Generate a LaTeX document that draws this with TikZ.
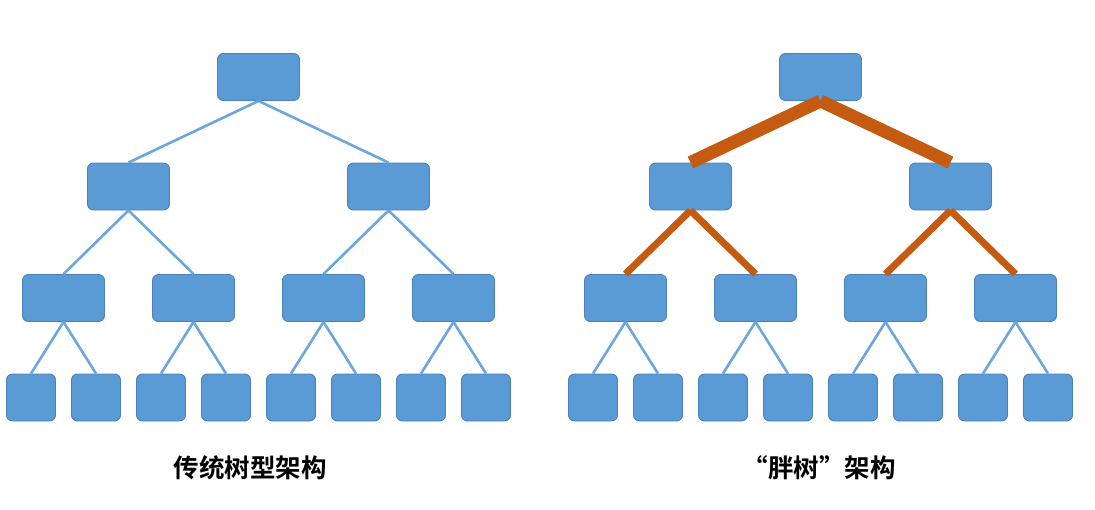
\documentclass[tikz,border=0pt]{standalone}
\usepackage{fontspec}
\newfontfamily\cjkb{Noto Sans CJK SC Bold}
\definecolor{boxfill}{HTML}{5B9BD5}
\definecolor{boxline}{HTML}{4A80B8}
\definecolor{thinline}{HTML}{6CA6DC}
\definecolor{fatline}{HTML}{C55A11}
\tikzset{
  box/.style={rectangle, rounded corners=6pt, draw=boxline, line width=0.9pt, fill=boxfill,
    minimum width=82pt, minimum height=47pt, inner sep=0pt},
  leaf/.style={box, minimum width=49pt},
  thin/.style={draw=thinline, line width=2.6pt},
  fatA/.style={draw=fatline, line width=13pt},
  fatB/.style={draw=fatline, line width=7pt},
  caption/.style={font=\cjkb\fontsize{25.5}{30}\selectfont, inner sep=0pt}
}
\begin{document}
\begin{tikzpicture}[x=1pt, y=-1pt]
\useasboundingbox (0,0) rectangle (1095,509);
\foreach \t/\ox in {A/0, B/562} {
  \node[box] (\t-r) at (258.5+\ox, 77) {};
  \node[box] (\t-1) at (128.5+\ox, 186.5) {};
  \node[box] (\t-2) at (388.5+\ox, 186.5) {};
  \foreach \i in {1,...,4}
    \node[box] (\t-3\i) at ({63.5+130*(\i-1)+\ox}, 298) {};
  \foreach \i in {1,...,8}
    \node[leaf] (\t-4\i) at ({31+65*(\i-1)+\ox}, 397.5) {};
}
% left tree: all thin links
\draw[thin] (A-r.south) -- (A-1.north);
\draw[thin] (A-r.south) -- (A-2.north);
\draw[thin] (A-1.south) -- (A-31.north);
\draw[thin] (A-1.south) -- (A-32.north);
\draw[thin] (A-2.south) -- (A-33.north);
\draw[thin] (A-2.south) -- (A-34.north);
% right tree: fat links at top
\draw[fatA] (B-r.south) -- (B-1.north);
\draw[fatA] (B-r.south) -- (B-2.north);
\draw[fatB] (B-1.south) -- (B-31.north);
\draw[fatB] (B-1.south) -- (B-32.north);
\draw[fatB] (B-2.south) -- (B-33.north);
\draw[fatB] (B-2.south) -- (B-34.north);
% bottom links (both trees)
\foreach \t in {A,B} {
  \foreach \i/\a/\b in {1/1/2, 2/3/4, 3/5/6, 4/7/8} {
    \draw[thin] (\t-3\i.south) -- (\t-4\a.north);
    \draw[thin] (\t-3\i.south) -- (\t-4\b.north);
  }
}
\node[caption] (capA) at (250, 468) {传统树型架构};
\node[caption] (capB) at (819, 468) {“胖树”架构};
\end{tikzpicture}
\end{document}
